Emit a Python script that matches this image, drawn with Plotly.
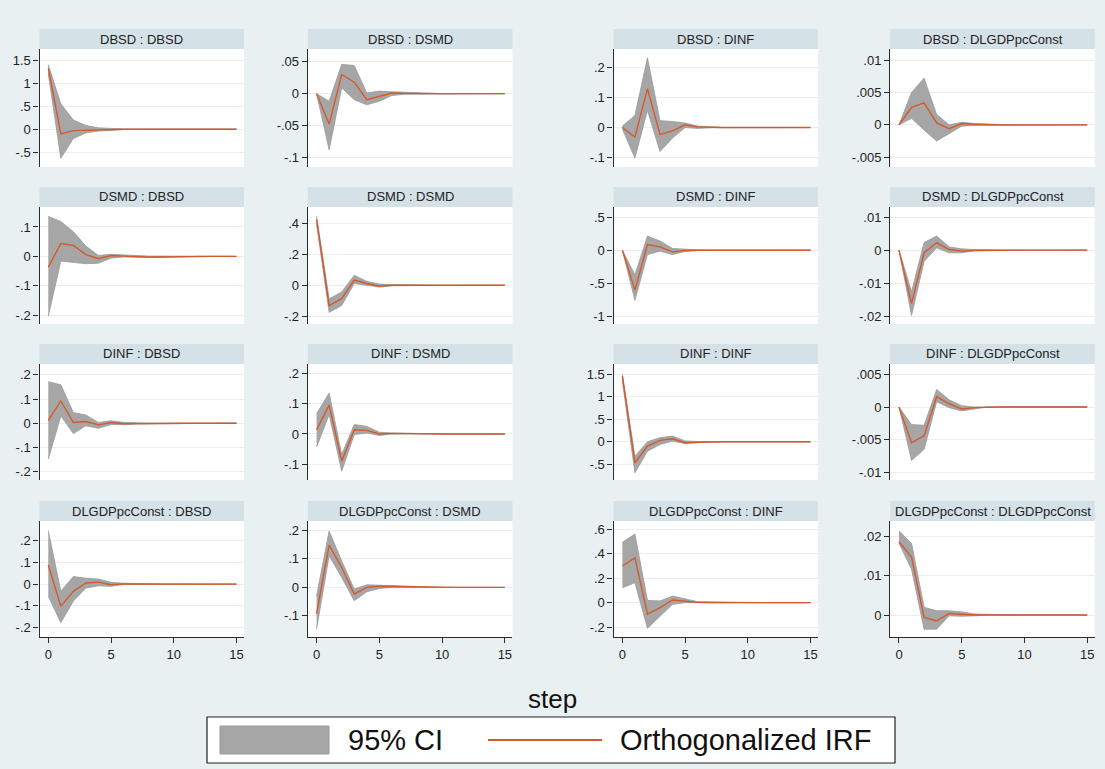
import plotly.graph_objects as go

# ---------------- data ----------------
steps = list(range(16))
variables = ["DBSD", "DSMD", "DINF", "DLGDPpcConst"]   # rows = impulse, cols = response
legend_labels = ["95% CI", "Orthogonalized IRF"]
x_title = "step"
x_ticks = [0, 5, 10, 15]

# impulse DBSD
irf_DBSD_DBSD = [1.32, -0.10, -0.03, -0.02, -0.01, -0.005, 0, 0, 0, 0, 0, 0, 0, 0, 0, 0]
hi_DBSD_DBSD = [1.40, 0.55, 0.20, 0.08, 0.03, 0.01, 0.005, 0.002, 0.001, 0, 0, 0, 0, 0, 0, 0]
lo_DBSD_DBSD = [1.20, -0.63, -0.20, -0.08, -0.04, -0.02, -0.008, -0.004, -0.002, 0, 0, 0, 0, 0, 0, 0]
yt_DBSD_DBSD = [-0.5, 0, 0.5, 1, 1.5]

irf_DBSD_DSMD = [0, -0.0475, 0.030, 0.018, -0.0095, -0.004, 0.001, 0.0005, 0, 0, 0, 0, 0, 0, 0, 0]
hi_DBSD_DSMD = [0, -0.012, 0.046, 0.044, 0.001, 0.004, 0.003, 0.002, 0.001, 0, 0, 0, 0, 0, 0, 0]
lo_DBSD_DSMD = [0, -0.088, 0.009, -0.0095, -0.0175, -0.012, -0.003, -0.001, 0, 0, 0, 0, 0, 0, 0, 0]
yt_DBSD_DSMD = [-0.1, -0.05, 0, 0.05]

irf_DBSD_DINF = [0, -0.032, 0.13, -0.023, -0.011, 0.009, 0.002, 0, 0, 0, 0, 0, 0, 0, 0, 0]
hi_DBSD_DINF = [0.005, 0.04, 0.233, 0.023, 0.02, 0.015, 0.005, 0.002, 0, 0, 0, 0, 0, 0, 0, 0]
lo_DBSD_DINF = [-0.005, -0.102, 0.057, -0.08, -0.035, 0.0, -0.003, -0.001, 0, 0, 0, 0, 0, 0, 0, 0]
yt_DBSD_DINF = [-0.1, 0, 0.1, 0.2]

irf_DBSD_DLGDPpcConst = [0, 0.0027, 0.0034, 0.0003, -0.0006, 0.0002, 0.0001, 0, 0, 0, 0, 0, 0, 0, 0, 0]
hi_DBSD_DLGDPpcConst = [0, 0.005, 0.0072, 0.0016, 0.0, 0.0004, 0.0002, 0.0001, 0, 0, 0, 0, 0, 0, 0, 0]
lo_DBSD_DLGDPpcConst = [0, 0.001, -0.0008, -0.0025, -0.0013, -0.0002, -0.0001, 0, 0, 0, 0, 0, 0, 0, 0, 0]
yt_DBSD_DLGDPpcConst = [-0.005, 0, 0.005, 0.01]

# impulse DSMD
irf_DSMD_DBSD = [-0.037, 0.044, 0.037, 0.006, -0.008, 0.003, 0.001, -0.001, -0.002, -0.002, -0.001, -0.001, 0, 0, 0, 0]
hi_DSMD_DBSD = [0.136, 0.119, 0.084, 0.035, 0.003, 0.007, 0.005, 0.002, 0.001, 0.001, 0.0005, 0, 0, 0, 0, 0]
lo_DSMD_DBSD = [-0.204, -0.016, -0.02, -0.025, -0.023, -0.006, -0.002, -0.003, -0.004, -0.004, -0.002, -0.001, 0, 0, 0, 0]
yt_DSMD_DBSD = [-0.2, -0.1, 0, 0.1]

irf_DSMD_DSMD = [0.425, -0.131, -0.087, 0.033, 0.011, -0.006, 0.0, 0.001, 0, 0, 0, 0, 0, 0, 0, 0]
hi_DSMD_DSMD = [0.447, -0.087, -0.044, 0.065, 0.025, 0.008, 0.005, 0.003, 0.001, 0, 0, 0, 0, 0, 0, 0]
lo_DSMD_DSMD = [0.393, -0.175, -0.131, 0.011, -0.002, -0.012, -0.003, -0.001, 0, 0, 0, 0, 0, 0, 0, 0]
yt_DSMD_DSMD = [-0.2, 0, 0.2, 0.4]

irf_DSMD_DINF = [0, -0.605, 0.087, 0.05, -0.026, -0.005, 0, 0, 0, 0, 0, 0, 0, 0, 0, 0]
hi_DSMD_DINF = [0, -0.374, 0.215, 0.138, 0.026, 0.01, 0.005, 0.002, 0, 0, 0, 0, 0, 0, 0, 0]
lo_DSMD_DINF = [0, -0.76, -0.067, -0.015, -0.067, -0.02, -0.005, -0.002, 0, 0, 0, 0, 0, 0, 0, 0]
yt_DSMD_DINF = [-1, -0.5, 0, 0.5]

irf_DSMD_DLGDPpcConst = [0, -0.0162, -0.0008, 0.0023, 0.0002, -0.0003, -0.0001, 0, 0, 0, 0, 0, 0, 0, 0, 0]
hi_DSMD_DLGDPpcConst = [0, -0.0126, 0.0023, 0.0043, 0.001, 0.0004, 0.0002, 0.0001, 0, 0, 0, 0, 0, 0, 0, 0]
lo_DSMD_DLGDPpcConst = [0, -0.0198, -0.0034, 0.0007, -0.0008, -0.0008, -0.0002, -0.0001, 0, 0, 0, 0, 0, 0, 0, 0]
yt_DSMD_DLGDPpcConst = [-0.02, -0.01, 0, 0.01]

# impulse DINF
irf_DINF_DBSD = [0.012, 0.092, 0.003, 0.007, -0.007, 0.003, -0.002, -0.001, 0, 0, 0, 0, 0, 0, 0, 0]
hi_DINF_DBSD = [0.172, 0.159, 0.044, 0.034, 0.003, 0.01, 0.004, 0.001, 0, 0, 0, 0, 0, 0, 0, 0]
lo_DINF_DBSD = [-0.149, 0.03, -0.043, -0.011, -0.021, -0.005, -0.006, -0.003, 0, 0, 0, 0, 0, 0, 0, 0]
yt_DINF_DBSD = [-0.2, -0.1, 0, 0.1, 0.2]

irf_DINF_DSMD = [0.014, 0.095, -0.09, 0.014, 0.012, 0.0, 0.002, 0.001, 0.001, 0, 0, 0, 0, 0, 0, 0]
hi_DINF_DSMD = [0.067, 0.135, -0.068, 0.031, 0.025, 0.006, 0.003, 0.002, 0.001, 0, 0, 0, 0, 0, 0, 0]
lo_DINF_DSMD = [-0.043, 0.064, -0.123, -0.002, 0.003, -0.005, 0.0, 0, 0, 0, 0, 0, 0, 0, 0, 0]
yt_DINF_DSMD = [-0.1, 0, 0.1, 0.2]

irf_DINF_DINF = [1.46, -0.467, -0.096, 0.03, 0.067, -0.022, -0.01, 0, 0, 0, 0, 0, 0, 0, 0, 0]
hi_DINF_DINF = [1.50, -0.32, 0.0, 0.09, 0.126, 0.02, 0.005, 0.002, 0, 0, 0, 0, 0, 0, 0, 0]
lo_DINF_DINF = [1.35, -0.69, -0.21, -0.06, 0.015, -0.04, -0.02, -0.005, 0, 0, 0, 0, 0, 0, 0, 0]
yt_DINF_DINF = [-0.5, 0, 0.5, 1, 1.5]

irf_DINF_DLGDPpcConst = [0, -0.0055, -0.0044, 0.0016, 0.0005, -0.0003, -0.0001, 0, 0, 0, 0, 0, 0, 0, 0, 0]
hi_DINF_DLGDPpcConst = [0, -0.0027, -0.0028, 0.0027, 0.0011, 0.0002, 0.0, 0, 0, 0, 0, 0, 0, 0, 0, 0]
lo_DINF_DLGDPpcConst = [0, -0.0082, -0.0065, 0.0008, -0.0001, -0.0006, -0.0003, 0, 0, 0, 0, 0, 0, 0, 0, 0]
yt_DINF_DLGDPpcConst = [-0.01, -0.005, 0, 0.005]

# impulse DLGDPpcConst
irf_DLGDPpcConst_DBSD = [0.088, -0.101, -0.033, 0.005, 0.009, -0.003, 0.001, 0.001, 0, 0, 0, 0, 0, 0, 0, 0]
hi_DLGDPpcConst_DBSD = [0.246, -0.033, 0.035, 0.027, 0.023, 0.008, 0.004, 0.002, 0, 0, 0, 0, 0, 0, 0, 0]
lo_DLGDPpcConst_DBSD = [-0.056, -0.177, -0.078, -0.018, -0.008, -0.01, -0.002, -0.001, 0, 0, 0, 0, 0, 0, 0, 0]
yt_DLGDPpcConst_DBSD = [-0.2, -0.1, 0, 0.1, 0.2]

irf_DLGDPpcConst_DSMD = [-0.093, 0.148, 0.07, -0.023, 0.0, 0.004, 0.003, 0.002, 0.002, 0.001, 0, 0, 0, 0, 0, 0]
hi_DLGDPpcConst_DSMD = [-0.03, 0.198, 0.093, -0.006, 0.009, 0.008, 0.006, 0.004, 0.003, 0.002, 0, 0, 0, 0, 0, 0]
lo_DLGDPpcConst_DSMD = [-0.146, 0.111, 0.035, -0.047, -0.015, -0.004, 0.0, 0, 0, 0, 0, 0, 0, 0, 0, 0]
yt_DLGDPpcConst_DSMD = [-0.1, 0, 0.1, 0.2]

irf_DLGDPpcConst_DINF = [0.30, 0.366, -0.095, -0.04, 0.022, 0.014, 0.002, 0.001, 0, 0, 0, 0, 0, 0, 0, 0]
hi_DLGDPpcConst_DINF = [0.494, 0.561, 0.019, 0.014, 0.054, 0.03, 0.008, 0.006, 0.002, 0, 0, 0, 0, 0, 0, 0]
lo_DLGDPpcConst_DINF = [0.122, 0.163, -0.21, -0.108, -0.014, 0.0, 0.0, -0.002, 0, 0, 0, 0, 0, 0, 0, 0]
yt_DLGDPpcConst_DINF = [-0.2, 0, 0.2, 0.4, 0.6]

irf_DLGDPpcConst_DLGDPpcConst = [0.0187, 0.0148, -0.0006, -0.0015, 0.0004, 0.0002, 0.0, 0, 0, 0, 0, 0, 0, 0, 0, 0]
hi_DLGDPpcConst_DLGDPpcConst = [0.0215, 0.0183, 0.002, 0.0011, 0.0011, 0.0008, 0.0003, 0.0002, 0, 0, 0, 0, 0, 0, 0, 0]
lo_DLGDPpcConst_DLGDPpcConst = [0.0183, 0.0117, -0.0036, -0.0036, -0.0002, -0.0003, -0.0002, 0, 0, 0, 0, 0, 0, 0, 0, 0]
yt_DLGDPpcConst_DLGDPpcConst = [0, 0.01, 0.02]

# ---------------- layout / style (pixels in a 1105x769 page) ----------------
W, H = 1105, 769
COL_X = [(39.5, 244.0), (307.8, 512.4), (613.6, 818.0), (890.2, 1094.8)]
ROW_Y = [(49, 167), (207, 324), (364, 480), (521, 637)]   # plot top, bottom
STRIP_H = 20
X_RANGE = [-0.7, 15.6]
Y_RANGES = [
    [[-0.82, 1.74], [-0.115, 0.070], [-0.132, 0.2625], [-0.0065, 0.0117]],
    [[-0.23, 0.168], [-0.25, 0.505], [-1.118, 0.654], [-0.0224, 0.0131]],
    [[-0.235, 0.245], [-0.152, 0.231], [-0.85, 1.73], [-0.0112, 0.0066]],
    [[-0.243, 0.29], [-0.174, 0.233], [-0.281, 0.668], [-0.0056, 0.024]],
]

BG = "#E9F0F2"
STRIP = "#D4E1E7"
CI_FILL = "#A6A6A6"
CI_EDGE = "#999999"
IRF_COLOR = "#D25A2C"
AXIS = "#2B2B2B"
GRID = "#EDEDED"
FONT = "Liberation Sans, Arial, sans-serif"


def stata_fmt(v):
    if v == 0:
        return "0"
    s = f"{v:g}"
    if s.startswith("0."):
        s = s[1:]
    elif s.startswith("-0."):
        s = "-" + s[2:]
    return s


g = globals()
fig = go.Figure()
layout = {}
shapes = []
annotations = []

for r, imp in enumerate(variables):
    for c, resp in enumerate(variables):
        key = f"{imp}_{resp}"
        irf = g["irf_" + key]
        lo = g["lo_" + key]
        hi = g["hi_" + key]
        yt = g["yt_" + key]
        idx = r * 4 + c + 1
        xa = "x" if idx == 1 else f"x{idx}"
        ya = "y" if idx == 1 else f"y{idx}"
        xl = "xaxis" if idx == 1 else f"xaxis{idx}"
        yl = "yaxis" if idx == 1 else f"yaxis{idx}"
        x0, x1 = COL_X[c]
        ytop, ybot = ROW_Y[r]

        fig.add_trace(go.Scatter(
            x=steps + steps[::-1], y=hi + lo[::-1], fill="toself",
            fillcolor=CI_FILL, line=dict(color=CI_EDGE, width=0.8),
            mode="lines", xaxis=xa, yaxis=ya, showlegend=False, hoverinfo="skip"))
        fig.add_trace(go.Scatter(
            x=steps, y=irf, mode="lines", line=dict(color=IRF_COLOR, width=1.4),
            xaxis=xa, yaxis=ya, showlegend=False))

        bottom = (r == 3)
        layout[xl] = dict(
            domain=[x0 / W, x1 / W], range=X_RANGE, anchor=ya,
            showgrid=False, zeroline=False, showline=bottom, linecolor=AXIS, linewidth=1.3,
            ticks="outside" if bottom else "", ticklen=5, tickcolor=AXIS,
            showticklabels=bottom, tickvals=x_ticks, ticktext=[str(t) for t in x_ticks],
            tickfont=dict(size=13, color="#222", family=FONT), fixedrange=True)
        layout[yl] = dict(
            domain=[1 - ybot / H, 1 - ytop / H], range=Y_RANGES[r][c], anchor=xa,
            showgrid=True, gridcolor=GRID, gridwidth=1, zeroline=False,
            showline=True, linecolor=AXIS, linewidth=1.3,
            ticks="outside", ticklen=5, tickcolor=AXIS,
            tickvals=yt, ticktext=[stata_fmt(v) for v in yt],
            tickfont=dict(size=13, color="#222", family=FONT), fixedrange=True)

        # strip header
        shapes.append(dict(type="rect", xref="paper", yref="paper",
                           x0=x0 / W, x1=x1 / W, y0=1 - ytop / H, y1=1 - (ytop - STRIP_H) / H,
                           fillcolor=STRIP, line=dict(width=0), layer="below"))
        annotations.append(dict(text=f"{imp} : {resp}", xref="paper", yref="paper",
                                x=(x0 + x1) / 2 / W, y=1 - (ytop - STRIP_H / 2) / H,
                                xanchor="center", yanchor="middle", showarrow=False,
                                font=dict(size=13, color="#222", family=FONT)))

# x title
annotations.append(dict(text=x_title, xref="paper", yref="paper", x=552 / W, y=1 - 699 / H,
                        xanchor="center", yanchor="middle", showarrow=False,
                        font=dict(size=26, color="#111", family=FONT)))

# legend box (drawn manually, Stata style)
LB = (207, 717, 895, 763)
shapes.append(dict(type="rect", xref="paper", yref="paper",
                   x0=LB[0] / W, x1=LB[2] / W, y0=1 - LB[3] / H, y1=1 - LB[1] / H,
                   fillcolor="white", line=dict(color="#222", width=1.2)))
shapes.append(dict(type="rect", xref="paper", yref="paper",
                   x0=220 / W, x1=329 / W, y0=1 - 754 / H, y1=1 - 726 / H,
                   fillcolor=CI_FILL, line=dict(color=CI_EDGE, width=1)))
shapes.append(dict(type="line", xref="paper", yref="paper",
                   x0=488 / W, x1=602 / W, y0=1 - 740 / H, y1=1 - 740 / H,
                   line=dict(color=IRF_COLOR, width=2)))
annotations.append(dict(text=legend_labels[0], xref="paper", yref="paper", x=346 / W, y=1 - 740 / H,
                        xanchor="left", yanchor="middle", showarrow=False,
                        font=dict(size=29, color="#111", family=FONT)))
annotations.append(dict(text=legend_labels[1], xref="paper", yref="paper", x=618 / W, y=1 - 740 / H,
                        xanchor="left", yanchor="middle", showarrow=False,
                        font=dict(size=29, color="#111", family=FONT)))

fig.update_layout(
    width=W, height=H, margin=dict(l=0, r=0, t=0, b=0),
    paper_bgcolor=BG, plot_bgcolor="white",
    font=dict(family=FONT), shapes=shapes, annotations=annotations,
    showlegend=False, **layout)

fig.write_html(
    "out.html", config={"displayModeBar": False},
    post_script="document.body.style.margin='0';document.body.style.background='" + BG + "';")
